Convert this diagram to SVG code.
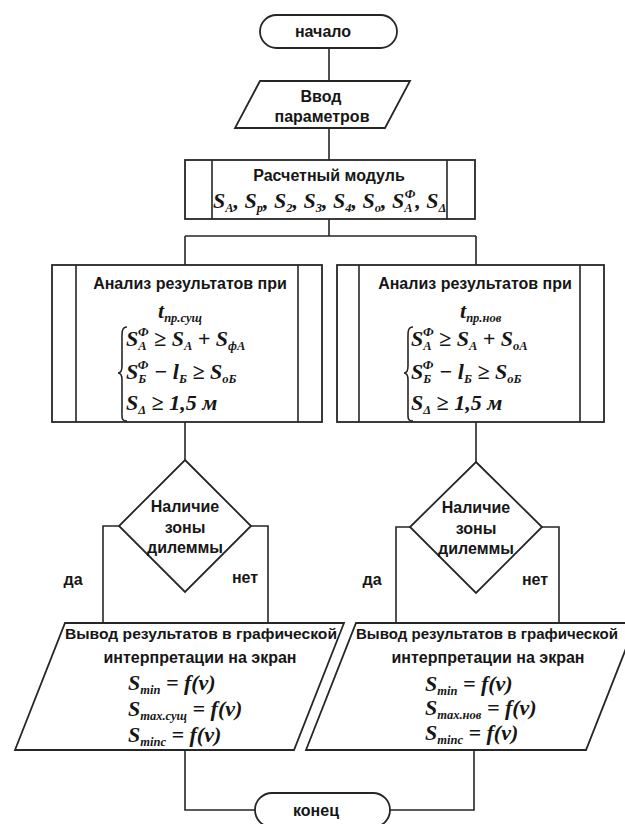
<svg xmlns="http://www.w3.org/2000/svg" width="625" height="824" viewBox="0 0 625 824">
<style>
.ln{fill:none;stroke:#262626;stroke-width:1.6}
.sh{fill:#fff;stroke:#262626;stroke-width:1.8}
.t{font-family:"Liberation Sans",Arial,sans-serif;font-weight:bold;font-size:16px;fill:#161616;text-anchor:middle}
.w{font-size:14.5px}
.m{font-family:"Liberation Serif","Times New Roman",serif;font-style:italic;font-weight:bold;font-size:22px;fill:#161616}
.s{font-size:12.5px}
</style>
<rect width="625" height="824" fill="#fff"/>
<g id="connectors">
<path class="ln" d="M329,48V81M329,128V160M329,219V236M185,236H476M185,236V265M476,236V265"/>
<path class="ln" d="M185,422V460M476,422V462"/>
<path class="ln" d="M119,526H103V623M251,526H268V623"/>
<path class="ln" d="M410,527H396V623M542,527H559V623"/>
<path class="ln" d="M185,750V810H255M474,750V810H390"/>
</g>
<g id="start">
<rect class="sh" x="260" y="15" width="137" height="33" rx="16.5"/>
<text class="t" x="323" y="37">начало</text>
</g>
<g id="input">
<polygon class="sh" points="260,81 410,81 385,128 235,128"/>
<text class="t" x="321" y="102">Ввод</text>
<text class="t" x="322" y="122">параметров</text>
</g>
<g id="calc">
<rect class="sh" x="185" y="160" width="290" height="59"/>
<path class="ln" d="M212,160V219M447,160V219"/>
<text class="t" x="329" y="181">Расчетный модуль</text>
<text class="m" x="213" y="208">S<tspan class="s" dy="4">A</tspan><tspan dy="-4">, S</tspan><tspan class="s" dy="4">p</tspan><tspan dy="-4">, S</tspan><tspan class="s" dy="4">2</tspan><tspan dy="-4">, S</tspan><tspan class="s" dy="4">3</tspan><tspan dy="-4">, S</tspan><tspan class="s" dy="4">4</tspan><tspan dy="-4">, S</tspan><tspan class="s" dy="4">o</tspan><tspan dy="-4">, S</tspan><tspan class="s" dy="4">A</tspan><tspan class="s" dx="-8" dy="-14">Ф</tspan><tspan dy="10">, S</tspan><tspan class="s" dy="4">Δ</tspan></text>
</g>
<g id="analysis-left">
<rect class="sh" x="52" y="265" width="270" height="157"/>
<path class="ln" d="M76,265V422M298,265V422"/>
<text class="t" x="190" y="289">Анализ результатов при</text>
<text class="m" x="158" y="318">t<tspan class="s" dy="4">пр.сущ</tspan></text>
<path class="ln" d="M127,327C121,327 122,333 122,345V366Q122,373 118,373Q122,373 122,380V408C122,418 121,421 127,421" stroke-width="1.3"/>
<text class="m" x="126" y="346">S<tspan class="s" dy="4">А</tspan><tspan class="s" dx="-8" dy="-14">Ф</tspan><tspan dy="10"> ≥ S</tspan><tspan class="s" dy="4">А</tspan><tspan dy="-4"> + S</tspan><tspan class="s" dy="4">фА</tspan></text>
<text class="m" x="126" y="379">S<tspan class="s" dy="4">Б</tspan><tspan class="s" dx="-8" dy="-14">Ф</tspan><tspan dy="10"> − l</tspan><tspan class="s" dy="4">Б</tspan><tspan dy="-4"> ≥ S</tspan><tspan class="s" dy="4">оБ</tspan></text>
<text class="m" x="126" y="410">S<tspan class="s" dy="4">Δ</tspan><tspan dy="-4"> ≥ 1,5 м</tspan></text>
</g>
<g id="analysis-right">
<rect class="sh" x="337" y="265" width="267" height="157"/>
<path class="ln" d="M359,265V422M580,265V422"/>
<text class="t" x="475" y="289">Анализ результатов при</text>
<text class="m" x="460" y="318">t<tspan class="s" dy="4">пр.нов</tspan></text>
<path class="ln" d="M413,327C407,327 408,333 408,345V366Q408,373 404,373Q408,373 408,380V408C408,418 407,421 413,421" stroke-width="1.3"/>
<text class="m" x="411" y="346">S<tspan class="s" dy="4">А</tspan><tspan class="s" dx="-8" dy="-14">Ф</tspan><tspan dy="10"> ≥ S</tspan><tspan class="s" dy="4">А</tspan><tspan dy="-4"> + S</tspan><tspan class="s" dy="4">оА</tspan></text>
<text class="m" x="411" y="379">S<tspan class="s" dy="4">Б</tspan><tspan class="s" dx="-8" dy="-14">Ф</tspan><tspan dy="10"> − l</tspan><tspan class="s" dy="4">Б</tspan><tspan dy="-4"> ≥ S</tspan><tspan class="s" dy="4">оБ</tspan></text>
<text class="m" x="411" y="410">S<tspan class="s" dy="4">Δ</tspan><tspan dy="-4"> ≥ 1,5 м</tspan></text>
</g>
<g id="decision-left">
<polygon class="sh" points="185,460 251,526 185,592 119,526"/>
<text class="t" x="185" y="512">Наличие</text>
<text class="t" x="185" y="533">зоны</text>
<text class="t" x="185" y="553">дилеммы</text>
<text class="t" x="73" y="585">да</text>
<text class="t" x="245" y="583">нет</text>
</g>
<g id="decision-right">
<polygon class="sh" points="476,462 542,527 476,593 410,527"/>
<text class="t" x="476" y="513">Наличие</text>
<text class="t" x="476" y="534">зоны</text>
<text class="t" x="476" y="554">дилеммы</text>
<text class="t" x="372" y="585">да</text>
<text class="t" x="535" y="585">нет</text>
</g>
<g id="output-left">
<polygon class="sh" points="65,623 344,623 294,750 15,750"/>
<text class="t w" x="201" y="639" textLength="272" lengthAdjust="spacingAndGlyphs">Вывод результатов в графической</text>
<text class="t" x="200" y="663">интерпретации на экран</text>
<text class="m" x="128" y="690">S<tspan class="s" dy="4">min</tspan><tspan dy="-4"> = f(v)</tspan></text>
<text class="m" x="128" y="716">S<tspan class="s" dy="4">max.сущ</tspan><tspan dy="-4"> = f(v)</tspan></text>
<text class="m" x="128" y="742">S<tspan class="s" dy="4">minc</tspan><tspan dy="-4"> = f(v)</tspan></text>
</g>
<g id="output-right">
<polygon class="sh" points="356,623 636,623 586,750 306,750"/>
<text class="t w" x="487" y="639" textLength="262" lengthAdjust="spacingAndGlyphs">Вывод результатов в графической</text>
<text class="t" x="488" y="663">интерпретации на экран</text>
<text class="m" x="425" y="691">S<tspan class="s" dy="4">min</tspan><tspan dy="-4"> = f(v)</tspan></text>
<text class="m" x="425" y="715">S<tspan class="s" dy="4">max.нов</tspan><tspan dy="-4"> = f(v)</tspan></text>
<text class="m" x="425" y="740">S<tspan class="s" dy="4">minc</tspan><tspan dy="-4"> = f(v)</tspan></text>
</g>
<g id="end">
<rect class="sh" x="255" y="793" width="135" height="34" rx="17"/>
<text class="t" x="316" y="816">конец</text>
</g>
</svg>
